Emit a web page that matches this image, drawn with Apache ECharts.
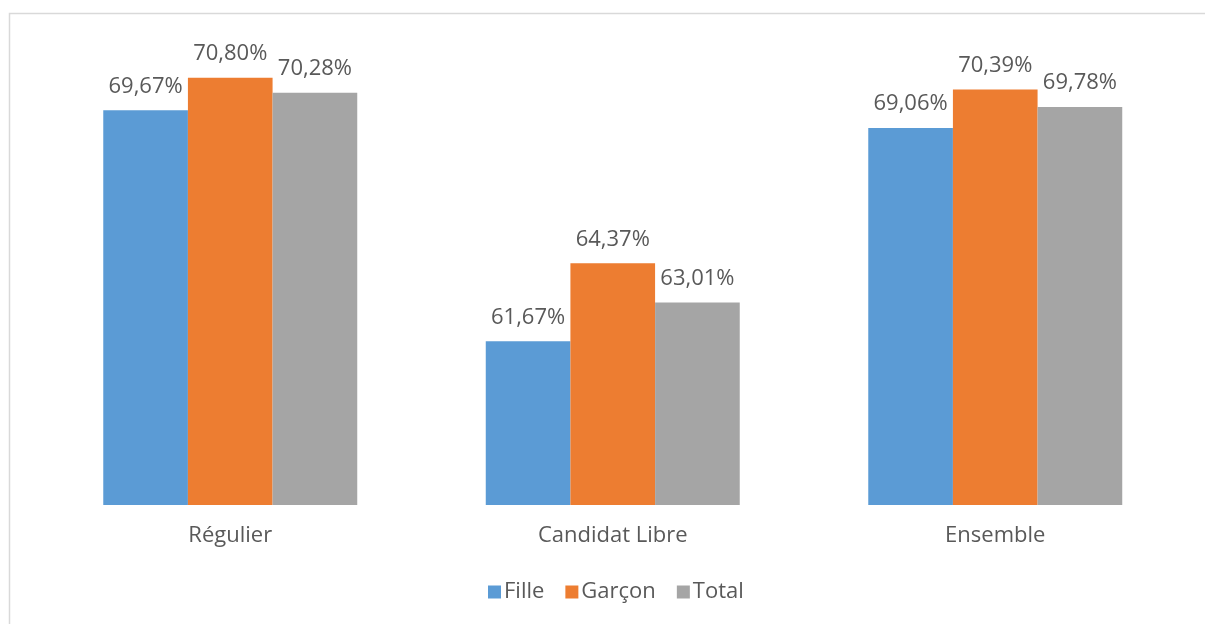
<!DOCTYPE html>
<html>
<head>
<meta charset="utf-8">
<script src="https://cdn.jsdelivr.net/npm/echarts@6/dist/echarts.min.js"></script>
<style>
html,body{margin:0;padding:0;background:#fff;}
#c{width:1205px;height:624px;}
</style>
</head>
<body>
<div id="c"></div>
<script>
const categories = ['Régulier', 'Candidat Libre', 'Ensemble'];
const fille = [69.67, 61.67, 69.06];
const garcon = [70.80, 64.37, 70.39];
const total = [70.28, 63.01, 69.78];
const seriesNames = ['Fille', 'Garçon', 'Total'];
const colors = ['#5B9BD5', '#ED7D31', '#A5A5A5'];

const font = '"Open Sans", "Noto Sans", sans-serif';
const fmt = p => p.value.toFixed(2).replace('.', ',') + '%';

function mk(name, data, color) {
  return {
    name: name,
    type: 'bar',
    data: data,
    barGap: '0%',
    barCategoryGap: '33.6%',
    itemStyle: { color: color },
    label: {
      show: true,
      position: 'top',
      distance: 13,
      formatter: fmt,
      color: '#595959',
      fontSize: 22,
      fontFamily: font
    }
  };
}

const chart = echarts.init(document.getElementById('c'), null, { renderer: 'canvas' });
chart.setOption({
  animation: false,
  backgroundColor: '#fff',
  graphic: [{
    type: 'rect',
    shape: { x: 9.5, y: 13.5, width: 1400, height: 800 },
    style: { fill: 'none', stroke: '#d9d9d9', lineWidth: 1.5 },
    silent: true
  }],
  grid: { left: 39, right: 18.5, top: 43, bottom: 119, containLabel: false },
  legend: {
    data: seriesNames,
    bottom: 16,
    left: 483,
    itemWidth: 13,
    itemHeight: 13,
    itemGap: 21,
    icon: 'rect',
    textStyle: { color: '#595959', fontSize: 22, fontFamily: font, padding: [0, 0, 0, -2] }
  },
  xAxis: {
    type: 'category',
    data: categories,
    axisLine: { show: false },
    axisTick: { show: false },
    axisLabel: { color: '#595959', fontSize: 22, fontFamily: font, margin: 20 }
  },
  yAxis: {
    type: 'value',
    min: 56,
    max: 72,
    interval: 2,
    show: false,
    splitLine: { show: false }
  },
  series: [
    mk(seriesNames[0], fille, colors[0]),
    mk(seriesNames[1], garcon, colors[1]),
    mk(seriesNames[2], total, colors[2])
  ]
});
</script>
</body>
</html>
